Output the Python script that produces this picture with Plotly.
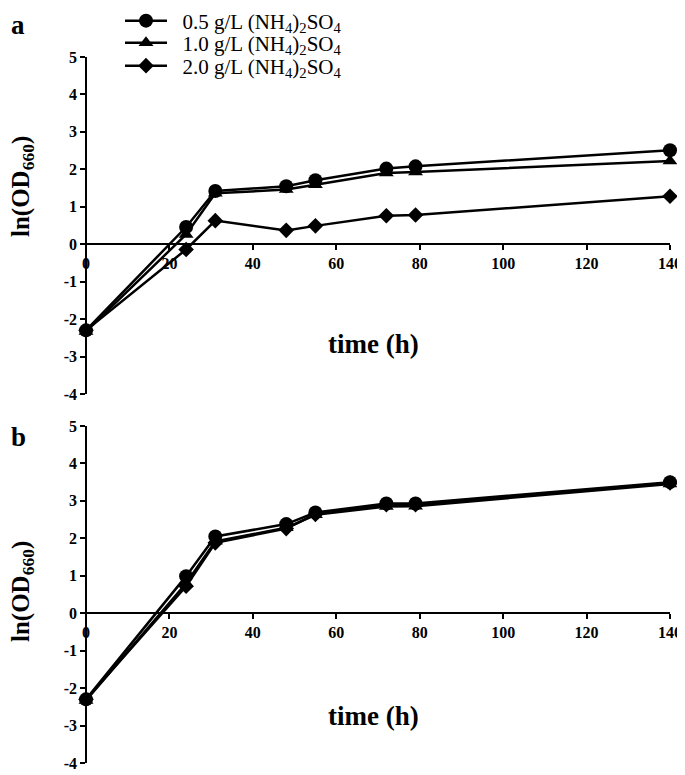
import plotly.graph_objects as go

# ---- data ----
time_h = [0, 24, 31, 48, 55, 72, 79, 140]
series_names = [
    "\u00a0\u00a00.5 g/L (NH<sub>4</sub>)<sub>2</sub>SO<sub>4</sub>",
    "\u00a0\u00a01.0 g/L (NH<sub>4</sub>)<sub>2</sub>SO<sub>4</sub>",
    "\u00a0\u00a02.0 g/L (NH<sub>4</sub>)<sub>2</sub>SO<sub>4</sub>",
]
a_05 = [-2.30, 0.46, 1.42, 1.55, 1.71, 2.02, 2.08, 2.51]
a_10 = [-2.33, 0.26, 1.36, 1.46, 1.59, 1.90, 1.93, 2.22]
a_20 = [-2.30, -0.14, 0.63, 0.37, 0.49, 0.76, 0.78, 1.28]
b_05 = [-2.30, 0.99, 2.05, 2.38, 2.69, 2.93, 2.93, 3.50]
b_10 = [-2.33, 0.80, 1.92, 2.28, 2.63, 2.85, 2.86, 3.45]
b_20 = [-2.30, 0.72, 1.88, 2.26, 2.64, 2.90, 2.90, 3.48]
x_ticks = [0, 20, 40, 60, 80, 100, 120, 140]
y_ticks = [-4, -3, -2, -1, 0, 1, 2, 3, 4, 5]
y_ticklabels = ["-4", "-3", "-2", "-1", "0", "1", "2", "3", "4", "5"]

# page body has an 8px default margin, so the figure is drawn 8px smaller
OFF = 8
W, H = 685 - OFF, 775 - OFF
FONT = "Liberation Serif"

def fx(p):
    return (p - OFF) / W

def fy(p):
    return 1 - (p - OFF) / H

symbols = ["circle", "triangle-up", "diamond"]
sizes = [14, 13, 12]
legend_ids = ["legend", "legend2", "legend3"]

fig = go.Figure()
for i, (ya, yb) in enumerate([(a_05, b_05), (a_10, b_10), (a_20, b_20)]):
    fig.add_trace(go.Scatter(
        x=time_h, y=ya, mode="lines+markers", name=series_names[i],
        line=dict(color="black", width=2.5),
        marker=dict(symbol=symbols[i], size=sizes[i], color="black"),
        xaxis="x", yaxis="y", cliponaxis=False, showlegend=True,
        legend=legend_ids[i]))
    fig.add_trace(go.Scatter(
        x=time_h, y=yb, mode="lines+markers", name=series_names[i],
        line=dict(color="black", width=2.5),
        marker=dict(symbol=symbols[i], size=sizes[i], color="black"),
        xaxis="x2", yaxis="y2", cliponaxis=False, showlegend=False))

xdom = [fx(86), fx(670)]
ya_dom = [fy(394), fy(57)]
yb_dom = [fy(763), fy(426)]
yr = [-4, 5]

def zero_pos(dom):
    return dom[0] + (dom[1] - dom[0]) * (0 - yr[0]) / (yr[1] - yr[0])

tickfont = dict(family=FONT, size=16, color="black", weight="bold")
xcommon = dict(range=[0, 140], tickvals=x_ticks, showline=True, linecolor="black",
               linewidth=1.5, ticks="outside", ticklen=5, tickwidth=1.5, tickcolor="black",
               tickfont=tickfont, showgrid=False, zeroline=False, domain=xdom,
               anchor="free", automargin=False)
ycommon = dict(range=yr, tickvals=y_ticks, ticktext=y_ticklabels, showline=True,
               linecolor="black", linewidth=1.5, ticks="outside", ticklen=5,
               tickwidth=1.5, tickcolor="black", tickfont=tickfont, showgrid=False,
               zeroline=False, automargin=False)

def leg(row_y):
    return dict(x=fx(120), y=fy(row_y), xanchor="left", yanchor="middle",
                font=dict(family=FONT, size=21, color="black"),
                bgcolor="rgba(0,0,0,0)", borderwidth=0, itemwidth=42)

fig.update_layout(
    template="none",
    width=W, height=H,
    margin=dict(l=0, r=0, t=0, b=0, pad=0, autoexpand=False),
    paper_bgcolor="white", plot_bgcolor="white",
    font=dict(family=FONT, color="black"),
    xaxis=dict(**xcommon, position=zero_pos(ya_dom)),
    xaxis2=dict(**xcommon, position=zero_pos(yb_dom)),
    yaxis=dict(**ycommon, domain=ya_dom, anchor="free", position=xdom[0]),
    yaxis2=dict(**ycommon, domain=yb_dom, anchor="free", position=xdom[0]),
    legend=leg(21), legend2=leg(43), legend3=leg(66),
    showlegend=True,
)

annots = []
for lab, ly, ty, yc in [("a", 25, 344, 187), ("b", 437, 716, 592)]:
    annots.append(dict(text=lab, x=fx(18), y=fy(ly), xref="paper", yref="paper",
                       xanchor="center", yanchor="middle", showarrow=False,
                       font=dict(family=FONT, size=27, weight="bold")))
    annots.append(dict(text="time (h)", x=fx(374), y=fy(ty), xref="paper", yref="paper",
                       xanchor="center", yanchor="middle", showarrow=False,
                       font=dict(family=FONT, size=27, weight="bold")))
    annots.append(dict(text="ln(OD<sub>660</sub>)", x=fx(22), y=fy(yc), xref="paper",
                       yref="paper", xanchor="center", yanchor="middle", textangle=-90,
                       showarrow=False, font=dict(family=FONT, size=25, weight="bold")))
fig.update_layout(annotations=annots)

fig.write_html("out.html")
